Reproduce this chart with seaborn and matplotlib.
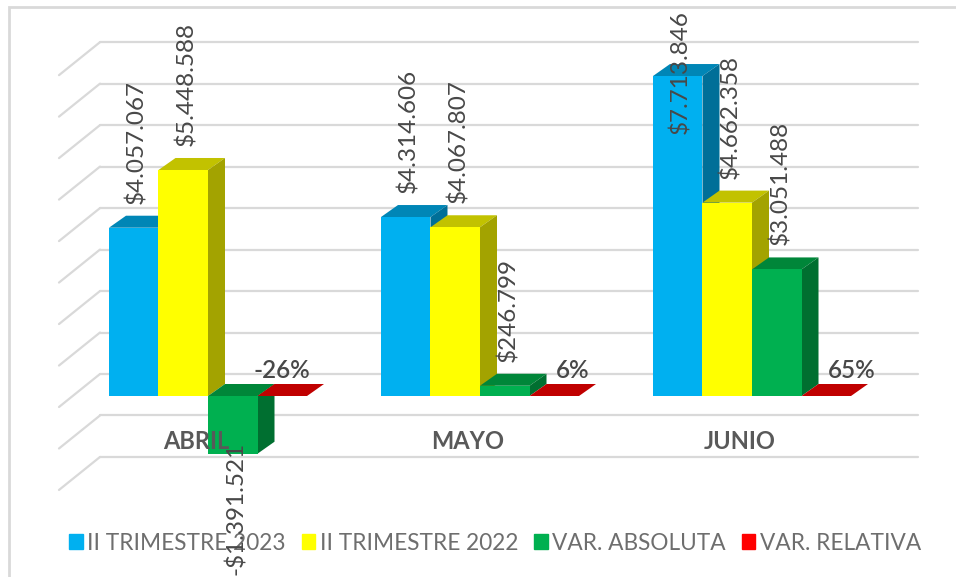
#!/usr/bin/env python3

import pandas
import seaborn as sns
import matplotlib.pyplot as plt
from matplotlib.patches import Polygon, Rectangle

months = ["ABRIL", "MAYO", "JUNIO"]
series = ["II TRIMESTRE 2023", "II TRIMESTRE 2022", "VAR. ABSOLUTA", "VAR. RELATIVA"]
trim_2023 = [4057067, 4314606, 7713846]
trim_2022 = [5448588, 4067807, 4662358]
var_abs = [-1391521, 246799, 3051488]
var_rel = [-0.26, 0.06, 0.65]

labels_2023 = ["$4.057.067", "$4.314.606", "$7.713.846"]
labels_2022 = ["$5.448.588", "$4.067.807", "$4.662.358"]
labels_abs = ["-$1.391.521", "$246.799", "$3.051.488"]
labels_rel = ["-26%", "6%", "65%"]

colors = ["#00B0F0", "#FFFF00", "#00B050", "#FF0000"]
top_colors = ["#0086B6", "#C2C200", "#008639", "#C00000"]
side_colors = ["#006F98", "#A3A300", "#006F30", "#C00000"]

W, H = 956, 577
TEXT = "#484848"
GRID = "#D9D9D9"
FONT = ["Lato", "DejaVu Sans"]

sns.set_theme(style="white")
plt.rcParams["font.family"] = FONT


def px_x(px):
    # pixel column to category axis
    return (px - 208) / 272


def px_y(px):
    # pixel row to value axis, 41.48 px per million
    return (396 - px) / 41.48 * 1e6


def main():
    rows = []
    for i, month in enumerate(months):
        rows.append([month, series[0], trim_2023[i]])
        rows.append([month, series[1], trim_2022[i]])
        rows.append([month, series[2], var_abs[i]])
        rows.append([month, series[3], var_rel[i]])
    df = pandas.DataFrame(rows, columns=["mes", "serie", "valor"])

    fig = plt.figure(figsize=(W / 100, H / 100), dpi=100)
    ax = fig.add_axes([0, 0, 1, 1])
    sns.barplot(
        data=df,
        x="mes",
        y="valor",
        hue="serie",
        hue_order=series,
        palette=colors,
        width=0.728,
        gap=0,
        saturation=1,
        linewidth=0,
        legend=False,
        ax=ax,
        zorder=3,
    )
    ax.set_xlim(px_x(0), px_x(W))
    ax.set_ylim(px_y(H), px_y(0))
    ax.axis("off")

    # Back wall lines with the left floor diagonals
    for level in range(-2, 9):
        back = px_y(396 - 22 - level * 41.48)
        front = px_y(396 + 11 - level * 41.48)
        ax.plot([px_x(100), px_x(918)], [back, back], color=GRID, lw=1.6, zorder=1)
        ax.plot([px_x(59), px_x(100)], [front, back], color=GRID, lw=1.6, zorder=1)

    # Outer frame of the picture
    ax.add_patch(
        Rectangle(
            (px_x(9), px_y(H + 10)),
            px_x(W + 10) - px_x(9),
            px_y(7) - px_y(H + 10),
            fill=False,
            edgecolor=GRID,
            lw=2,
            zorder=1,
        )
    )

    # Depth faces on top of the bars seaborn drew
    dx = 17 / 272
    dy = 12 / 41.48 * 1e6
    for s, container in enumerate(ax.containers):
        for bar in container:
            x0 = bar.get_x()
            x1 = x0 + bar.get_width()
            low = min(bar.get_y(), bar.get_y() + bar.get_height())
            high = max(bar.get_y(), bar.get_y() + bar.get_height())
            top = [(x0, high), (x1, high), (x1 + dx, high + dy), (x0 + dx, high + dy)]
            side = [(x1, low), (x1 + dx, low + dy), (x1 + dx, high + dy), (x1, high)]
            ax.add_patch(Polygon(top, color=top_colors[s], lw=0, zorder=2.5))
            ax.add_patch(Polygon(side, color=side_colors[s], lw=0, zorder=2.5))

    # Data labels, the tallest one gets pushed down inside the chart area
    value_labels = [labels_2023, labels_2022, labels_abs]
    for s, texts in enumerate(value_labels):
        for bar, text in zip(ax.containers[s], texts):
            xc = bar.get_x() + bar.get_width() / 2 + 3 / 272
            value = bar.get_height()
            if value < 0:
                y, va = px_y(442), "top"
            elif value > 7e6:
                y, va = px_y(10), "top"
            else:
                y, va = value + dy + 0.29e6, "bottom"
            ax.text(
                xc, y, text, rotation=90, ha="center", va=va,
                fontsize=17.5, color=TEXT, zorder=6,
            )
    rel_shift = [0, 18, 25]
    for bar, text, shift in zip(ax.containers[3], labels_rel, rel_shift):
        xc = bar.get_x() + bar.get_width() / 2 + shift / 272
        ax.text(xc, px_y(378), text, ha="center", va="baseline",
                fontsize=17.5, fontweight="semibold", color=TEXT, zorder=6)

    # Category names under the zero line
    for i, month in enumerate(months):
        ax.text(i - 0.045, px_y(449), month, ha="center", va="baseline",
                fontsize=17, fontweight="bold", color="#595959", zorder=5)

    # Legend
    handles = [Rectangle((0, 0), 1, 1, color=c) for c in colors]
    ax.legend(
        handles,
        series,
        loc="center",
        bbox_to_anchor=(495 / W, 1 - 543 / H),
        ncol=4,
        frameon=False,
        fontsize=16.3,
        labelcolor="#6E6E6E",
        handlelength=0.6,
        handleheight=0.6,
        handletextpad=0.2,
        columnspacing=0.7,
        borderpad=0,
    )

    fig.savefig("out.png", dpi=100)


if __name__ == "__main__":
    main()
